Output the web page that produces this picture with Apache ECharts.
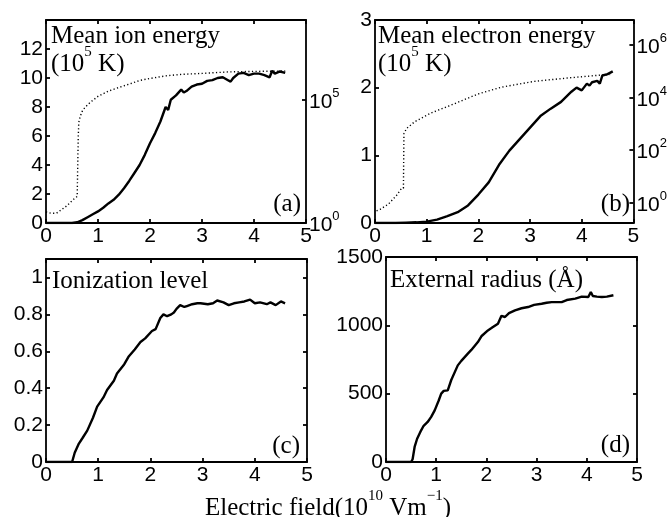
<!DOCTYPE html>
<html><head><meta charset="utf-8">
<script src="https://cdn.jsdelivr.net/npm/echarts@6/dist/echarts.min.js"></script>
<style>html,body{margin:0;padding:0;background:#fff}#c{width:670px;height:517px}</style>
</head><body><div id="c"></div>
<script>
// ---- data (electric field in 1e10 V/m) ----
const xTicks = [0, 1, 2, 3, 4, 5];

// (a) mean ion energy, linear (1e5 K)
const ionField  = [0,0.1,0.2,0.3,0.4,0.5,0.6,0.7,0.8,0.9,1.0,1.1,1.2,1.3,1.4,1.5,1.6,1.7,1.8,1.9,2.0,2.1,2.2,2.3,2.35,2.4,2.5,2.6,2.65,2.7,2.8,2.9,3.0,3.1,3.2,3.3,3.4,3.5,3.55,3.6,3.7,3.8,3.9,4.0,4.1,4.2,4.3,4.35,4.4,4.5,4.6];
const ionEnergy = [0,0,0,0,0,0,0.05,0.2,0.4,0.6,0.8,1.05,1.35,1.6,1.95,2.4,2.9,3.45,4.0,4.7,5.5,6.2,7.0,8.0,7.8,8.5,8.8,9.2,9.0,9.1,9.4,9.55,9.6,9.8,9.85,10.0,10.05,9.85,9.75,10.0,10.3,10.35,10.2,10.3,10.3,10.2,10.05,10.5,10.3,10.45,10.35];
// (a) mean ion energy, log scale (K)
const ionLogField = [0,0.1,0.2,0.3,0.4,0.5,0.55,0.6,0.61,0.62,0.63,0.66,0.7,0.75,0.85,1.0,1.2,1.4,1.6,1.8,2.0,2.3,2.6,3.0,3.5,4.0,4.6];
const ionEnergyK  = [2.8,2.5,2.5,3.5,5,8,10,12,200,3000,12000,22000,36000,50000,80000,1.4e5,2.3e5,3.2e5,4.4e5,6.2e5,7.5e5,9.5e5,1.1e6,1.2e6,1.38e6,1.45e6,1.5e6];
const ionLeftTicks = [0,2,4,6,8,10,12];
const ionRightTicks = [1, 1e5];

// (b) mean electron energy, linear (1e5 K)
const elecField  = [0,0.2,0.4,0.6,0.8,1.0,1.2,1.4,1.6,1.8,2.0,2.2,2.4,2.6,2.8,3.0,3.2,3.4,3.6,3.8,3.9,4.0,4.1,4.15,4.2,4.3,4.35,4.4,4.5,4.6];
const elecEnergy = [0,0,0,0.005,0.01,0.02,0.05,0.1,0.16,0.26,0.42,0.6,0.86,1.07,1.24,1.41,1.58,1.69,1.79,1.94,2.0,1.96,2.06,2.03,2.08,2.1,2.06,2.18,2.2,2.24];
// (b) mean electron energy, log scale (K)
const elecLogField = [0.03,0.1,0.26,0.42,0.51,0.55,0.56,0.61,0.77,1.09,1.47,1.99,2.44,3.08,3.72,4.36,4.55];
const elecEnergyK  = [0.48,0.55,0.87,1.9,3.4,3.5,420,660,1200,2600,5100,13500,24500,41000,55000,71000,74000];
const elecLeftTicks = [0,1,2,3];
const elecRightTicks = [1, 100, 1e4, 1e6];

// (c) ionization level
const ionizField = [0,0.5,0.55,0.63,0.7,0.79,0.9,0.98,1.1,1.17,1.3,1.36,1.5,1.58,1.7,1.81,1.9,2.03,2.1,2.19,2.25,2.32,2.4,2.45,2.5,2.57,2.65,2.7,2.8,2.9,2.96,3.1,3.2,3.28,3.4,3.5,3.6,3.7,3.8,3.91,4.0,4.1,4.23,4.3,4.4,4.5,4.58];
const ionizLevel = [0,0,0.05,0.10,0.13,0.17,0.24,0.30,0.35,0.39,0.44,0.48,0.53,0.57,0.61,0.65,0.67,0.71,0.72,0.78,0.80,0.79,0.80,0.81,0.83,0.85,0.84,0.845,0.855,0.86,0.86,0.855,0.86,0.875,0.865,0.85,0.86,0.865,0.87,0.88,0.86,0.865,0.855,0.865,0.85,0.87,0.86];
const ionizTicks = [0,0.2,0.4,0.6,0.8,1];

// (d) external radius (Angstrom)
const radiusField = [0,0.5,0.53,0.57,0.62,0.7,0.75,0.83,0.9,0.97,1.05,1.1,1.15,1.23,1.3,1.43,1.5,1.63,1.7,1.83,1.9,2.03,2.1,2.23,2.3,2.37,2.45,2.57,2.7,2.83,2.95,3.1,3.2,3.3,3.5,3.6,3.77,3.9,4.03,4.08,4.12,4.2,4.3,4.4,4.53];
const radiusVal   = [0,0,20,110,170,232,265,293,330,378,450,500,520,524,600,707,740,793,820,878,920,963,980,1012,1070,1061,1090,1110,1125,1134,1150,1158,1165,1170,1170,1185,1195,1210,1207,1244,1215,1210,1207,1210,1220];
const radiusTicks = [0,500,1000,1500];

// ---- chart ----
const zip = (a, b) => a.slice(0, Math.min(a.length, b.length)).map((v, i) => [v, b[i]]);
const BLACK = '#000';
const TICKFONT = 'Liberation Sans';
const SERIF = 'Liberation Serif';
const TICKSIZE = 21;
const lineSt = {color: BLACK, width: 1.8};
const supRich = {
  b: {fontFamily: TICKFONT, fontSize: TICKSIZE, color: BLACK, lineHeight: 26, verticalAlign: 'bottom'},
  s: {fontFamily: TICKFONT, fontSize: 13, color: BLACK, lineHeight: 26, verticalAlign: 'top'}
};
const plain = v => String(Math.round(v * 1000) / 1000);

function xPair(g) {
  const base = {type: 'value', gridIndex: g, min: 0, max: 5, interval: 1,
    axisLine: {show: true, onZero: false, lineStyle: lineSt},
    axisTick: {show: true, inside: true, length: 4, lineStyle: lineSt},
    splitLine: {show: false}};
  return [
    Object.assign({}, base, {position: 'bottom',
      axisLabel: {fontFamily: TICKFONT, fontSize: TICKSIZE, color: BLACK, margin: 3, customValues: xTicks, formatter: plain}}),
    Object.assign({}, base, {position: 'top', axisLabel: {show: false}})
  ];
}
function yLin(g, pos, min, max, ticks, showLabel) {
  return {type: 'value', gridIndex: g, position: pos, min: min, max: max,
    axisLine: {show: true, onZero: false, lineStyle: lineSt},
    axisTick: {show: true, inside: true, length: 4, lineStyle: lineSt, customValues: ticks},
    axisLabel: {show: showLabel, fontFamily: TICKFONT, fontSize: TICKSIZE, color: BLACK, margin: 3,
      customValues: ticks, formatter: plain},
    splitLine: {show: false}};
}
function yLog(g, minExp, maxExp, ticks) {
  return {type: 'log', logBase: 10, gridIndex: g, position: 'right',
    min: Math.pow(10, minExp), max: Math.pow(10, maxExp),
    axisLine: {show: true, onZero: false, lineStyle: lineSt},
    axisTick: {show: true, inside: true, length: 4, lineStyle: lineSt, customValues: ticks},
    axisLabel: {show: true, margin: 3, customValues: ticks,
      formatter: v => '{b|10}{s|' + Math.round(Math.log10(v)) + '}', rich: supRich},
    splitLine: {show: false}, minorTick: {show: false}};
}

const grids = [
  {left: 46, top: 20, width: 260, height: 203},
  {left: 375, top: 20, width: 260, height: 203},
  {left: 46, top: 259, width: 261, height: 203},
  {left: 386, top: 257, width: 251, height: 205}
];

const xAxis = [].concat(xPair(0), xPair(1), xPair(2), xPair(3));
const yAxis = [
  yLin(0, 'left', 0, 14, ionLeftTicks, true),
  yLog(0, 0, 8.25, ionRightTicks),
  yLin(1, 'left', 0, 3, elecLeftTicks, true),
  yLog(1, -0.78, 6.95, elecRightTicks),
  yLin(2, 'left', 0, 1.1, ionizTicks, true),
  yLin(2, 'right', 0, 1.1, ionizTicks, false),
  yLin(3, 'left', 0, 1500, radiusTicks, true),
  yLin(3, 'right', 0, 1500, radiusTicks, false)
];

const solid = {type: 'line', showSymbol: false, symbol: 'none', smooth: false,
  lineStyle: {color: BLACK, width: 2.4}, z: 5, animation: false};
const dotted = {type: 'line', showSymbol: false, symbol: 'none',
  lineStyle: {color: BLACK, width: 1.4, type: [1.2, 2.4]}, z: 4, animation: false};

const series = [
  Object.assign({}, solid, {xAxisIndex: 0, yAxisIndex: 0, data: zip(ionField, ionEnergy)}),
  Object.assign({}, dotted, {xAxisIndex: 0, yAxisIndex: 1, data: zip(ionLogField, ionEnergyK)}),
  Object.assign({}, solid, {xAxisIndex: 2, yAxisIndex: 2, data: zip(elecField, elecEnergy)}),
  Object.assign({}, dotted, {xAxisIndex: 2, yAxisIndex: 3, data: zip(elecLogField, elecEnergyK)}),
  Object.assign({}, solid, {xAxisIndex: 4, yAxisIndex: 4, data: zip(ionizField, ionizLevel)}),
  Object.assign({}, solid, {xAxisIndex: 6, yAxisIndex: 6, data: zip(radiusField, radiusVal)})
];

const annRich = {
  t: {fontFamily: SERIF, fontSize: 25, color: BLACK, lineHeight: 32, verticalAlign: 'bottom'},
  u: {fontFamily: SERIF, fontSize: 15, color: BLACK, lineHeight: 18, verticalAlign: 'top'}
};
function txt(x, y, text, align) {
  return {type: 'text', x: x, y: y, z: 100,
    style: {text: text, rich: annRich, fill: BLACK, align: align || 'left', verticalAlign: 'middle',
      font: '25px "' + SERIF + '"'}};
}

const graphic = [
  txt(51, 33, '{t|Mean ion energy}'),
  txt(51, 61, '{t|(10}{u|5}{t| K)}'),
  txt(378, 33, '{t|Mean electron energy}'),
  txt(378, 61, '{t|(10}{u|5}{t| K)}'),
  txt(52, 278, '{t|Ionization level}'),
  txt(390, 277, '{t|External radius (Å)}'),
  txt(301, 201, '{t|(a)}', 'right'),
  txt(630, 201, '{t|(b)}', 'right'),
  txt(300, 443, '{t|(c)}', 'right'),
  txt(630, 442, '{t|(d)}', 'right'),
  txt(328, 505, '{t|Electric field(10}{u|10}{t| Vm}{u|−1}{t|)}', 'center')
];

const chart = echarts.init(document.getElementById('c'), null, {renderer: 'canvas'});
chart.setOption({animation: false, backgroundColor: '#fff', grid: grids, xAxis: xAxis, yAxis: yAxis, series: series, graphic: graphic});
</script></body></html>
